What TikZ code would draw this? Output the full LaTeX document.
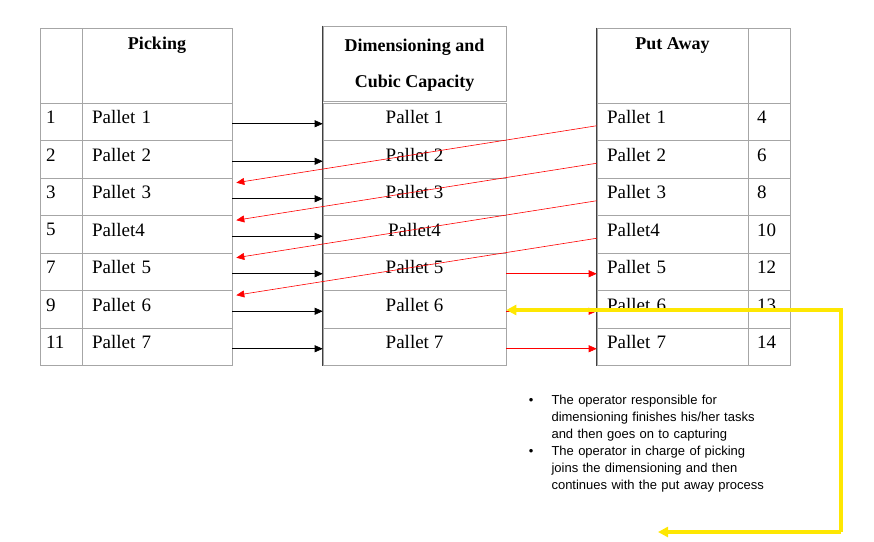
\documentclass[tikz,border=0pt]{standalone}
\usepackage{fontspec}
\setmainfont{Liberation Serif}
\newfontfamily\bulletfont{Liberation Sans}
\usepackage{tikz}
\usetikzlibrary{arrows.meta,positioning,calc}

\begin{document}
\begin{tikzpicture}[
    x=1pt, y=-1pt,
    cell/.style={draw=gray!70, line width=0.6pt, minimum height=37.5pt, inner sep=0pt, text depth=9pt, font=\fontsize{19}{22}\selectfont},
    head/.style={cell, minimum height=75pt, text depth=0pt, font=\fontsize{18}{36}\selectfont\bfseries, align=center, anchor=center},
    blk/.style={-{Triangle[length=8pt,width=7pt]}, line width=0.6pt},
    redarr/.style={-{Triangle[length=8pt,width=7pt]}, red, line width=0.6pt},
    yel/.style={-{Triangle[length=10pt,width=10pt]}, yellow!90!orange, line width=3.5pt}
  ]
    \useasboundingbox (0,0) rectangle (874,541);

    % headers
    \node[head, minimum width=42pt] (hnum) at (61,65.5) {};
    \node[head, minimum width=150pt, text depth=44pt] (hpick) at (157,65.5) {Picking};
    \node[head, minimum width=183pt] (hdim) at (414.5,63.5) {Dimensioning and\\Cubic Capacity\vphantom{g}};
    \node[head, minimum width=151pt, text depth=44pt] (hput) at (672.5,65.5) {Put Away};
    \node[head, minimum width=42pt] (hord) at (769,65.5) {};

    % rows
    \foreach \n/\pn/\nm/\rn [count=\i] in {1/1/Pallet 1/4, 2/2/Pallet 2/6, 3/3/Pallet 3/8,
        5/4/Pallet4/10, 7/5/Pallet 5/12, 9/6/Pallet 6/13, 11/7/Pallet 7/14} {
      \pgfmathsetmacro{\yy}{121.75+37.5*(\i-1)}
      \node[cell, minimum width=42pt, text width=30pt, align=left] (num\i) at (61,\yy) {\n};
      \node[cell, minimum width=150pt, text width=130pt, align=left] (pick\i) at (157,\yy) {\nm};
      \node[cell, minimum width=183pt, align=center] (dim\i) at (414.5,\yy) {\nm};
      \node[cell, minimum width=151pt, text width=131pt, align=left] (put\i) at (672.5,\yy) {\nm};
      \node[cell, minimum width=42pt, text width=24pt, align=left] (ord\i) at (769,\yy) {\rn};
    }
    \draw[line width=1pt, black!75] (hdim.north west) -- (dim7.south west);
    \draw[line width=1pt, black!75] (hput.north west) -- (put7.south west);

    % picking to dimensioning
    \foreach \i in {1,...,7}
      \draw[blk] ([yshift=-2pt]pick\i.east) -- ([yshift=-2pt]dim\i.west);

    % put away back to picking
    \foreach \i/\j in {1/3,2/4,3/5,4/6}
      \draw[redarr] ([yshift=-4pt]put\i.west) -- ([xshift=4pt,yshift=-5pt]pick\j.north east);
    \foreach \i in {5,6,7}
      \draw[redarr] ([yshift=-2pt]dim\i.east) -- ([yshift=-2pt]put\i.west);

    % notes
    \node[font=\bulletfont\fontsize{13}{17}\selectfont, text width=270pt, align=left, anchor=north west]
      (notes) at (510,384) {%
      \begin{list}{\textbullet}{\leftmargin=38pt\labelwidth=20pt\labelsep=18pt\itemsep=0pt\parsep=0pt\topsep=0pt}
        \item The operator responsible for\\dimensioning finishes his/her tasks\\and then goes on to capturing
        \item The operator in charge of picking\\joins the dimensioning and then\\continues with the put away process
      \end{list}};

    \coordinate (ytop) at (841,310);
    \coordinate (ybot) at (841,532);
    \coordinate (yend) at (658,532);
    \draw[yel] (ybot) -- (ytop) -- (ytop -| dim6.east);
    \draw[yel] (ybot) -- (yend);
\end{tikzpicture}
\end{document}
